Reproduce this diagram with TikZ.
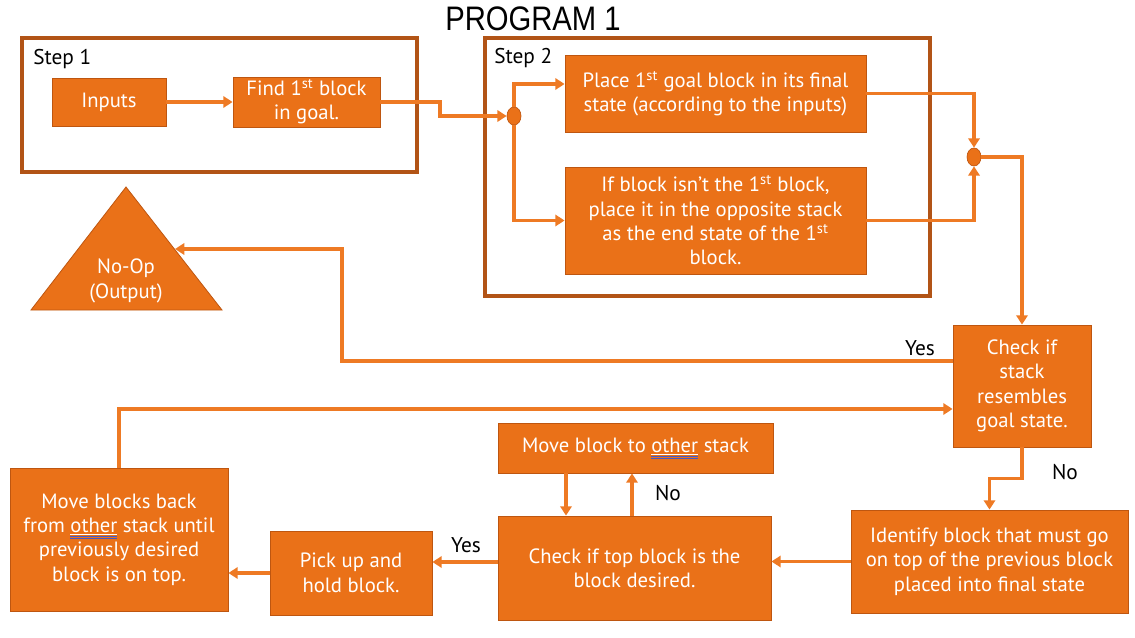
\documentclass[tikz,border=0pt]{standalone}
\usepackage{fontspec}
\setmainfont{PT Sans}
\newfontfamily\titlefont{Liberation Sans}
\usetikzlibrary{arrows.meta,shapes.geometric}
\definecolor{boxfill}{RGB}{234,113,24}
\definecolor{boxedge}{RGB}{190,86,16}
\definecolor{frame}{RGB}{178,84,22}
\definecolor{conn}{RGB}{238,122,36}
\definecolor{spellblue}{RGB}{70,90,200}
\newlength\spw
\newcommand\spellmark[1]{\settowidth\spw{#1}\rlap{\color{spellblue}\rule[-0.2em]{\spw}{0.4pt}\hspace{-\spw}\rule[-0.28em]{\spw}{0.4pt}}\underline{#1}}
\tikzset{
  bx/.style={draw=boxedge, fill=boxfill, line width=0.6pt, text=white, align=center, inner sep=2pt, font=\fontsize{15.5pt}{18.3pt}\selectfont},
  frm/.style={draw=frame, line width=2.3pt},
  cn/.style={draw=conn, line width=2.4pt, -{Triangle[length=7pt,width=8.5pt]}},
  junc/.style={ellipse, fill=boxfill, draw=boxedge, line width=0.5pt, inner sep=0pt, minimum width=10.5pt, minimum height=13.5pt},
  lbl/.style={text=black, font=\fontsize{16pt}{18pt}\selectfont, inner sep=0pt}
}
\begin{document}
\begin{tikzpicture}[x=0.75pt,y=-0.75pt]
\useasboundingbox (0,0) rectangle (1135,638);
% title
\node[font=\titlefont\fontsize{25.5pt}{28pt}\selectfont, inner sep=0pt] (title) at (533,19) {\scalebox{0.86}[1]{PROGRAM 1}};
% frames
\draw[frm] (22,38) rectangle (417,172);
\draw[frm] (485,38) rectangle (930,296);
\node[lbl, anchor=west] (s1) at (33,59) {Step 1};
\node[lbl, anchor=west] (s2) at (494,58) {Step 2};
% boxes
\node[bx, minimum width={114*0.75pt}, minimum height={48*0.75pt}] (inputs) at (109,102) {Inputs};
\node[bx, minimum width={147*0.75pt}, minimum height={48*0.75pt}] (find) at (306.5,102) {Find 1\textsuperscript{st} block\\in goal.};
\node[bx, minimum width={301*0.75pt}, minimum height={77*0.75pt}] (place) at (715.5,93.5) {Place 1\textsuperscript{st} goal block in its final\\state (according to the inputs)};
\node[bx, minimum width={301*0.75pt}, minimum height={107*0.75pt}] (ifb) at (715.5,220.5) {If block isn’t the 1\textsuperscript{st} block,\\place it in the opposite stack\\as the end state of the 1\textsuperscript{st}\\block.};
\node[bx, minimum width={138*0.75pt}, minimum height={122*0.75pt}] (check) at (1022,386) {Check if\\stack\\resembles\\goal state.};
\node[bx, minimum width={277*0.75pt}, minimum height={103*0.75pt}] (identify) at (989.5,561.5) {Identify block that must go\\on top of the previous block\\placed into final state};
\node[bx, minimum width={273*0.75pt}, minimum height={104*0.75pt}] (checktop) at (634.5,568) {Check if top block is the\\block desired.};
\node[bx, minimum width={275*0.75pt}, minimum height={50*0.75pt}] (moveo) at (635.5,448) {Move block to \spellmark{other} stack};
\node[bx, minimum width={162*0.75pt}, minimum height={84*0.75pt}] (pick) at (351,573) {Pick up and\\hold block.};
\node[bx, minimum width={218*0.75pt}, minimum height={143*0.75pt}] (moveback) at (119,539.5) {Move blocks back\\from \spellmark{other} stack until\\previously desired\\block is on top.};
% triangle
\draw[draw=boxedge, fill=boxfill, line width=0.6pt] (126,187) -- (222,310) -- (31,310) -- cycle;
\node[text=white, align=center, inner sep=0pt, font=\fontsize{15.5pt}{18.3pt}\selectfont] (noop) at (126,281) {No-Op\\(Output)};
\coordinate (tri) at (175,249);
% junctions
\node[junc] (j1) at (514,116) {};
\node[junc] (j2) at (974,157) {};
% connectors
\draw[cn] (inputs) -- (find);
\draw[cn] (find.east) -- (440,102) |- (j1.west);
\draw[cn] (j1.north) |- (place.west |- 0,84);
\draw[cn] (j1.south) |- (ifb.west);
\draw[cn] (place.east) -| (j2.north);
\draw[cn] (ifb.east) -| (j2.south);
\draw[cn] (j2.east) -| (check.north);
\draw[cn] (check.west |- 0,361) -- (342,361) -- (342,249) -- (tri);
\draw[cn] (moveback.north) |- (check.west |- 0,409);
\draw[cn] (check.south) -- ++(0,31) -| (identify.north);
\draw[cn] (identify.west) -- (checktop.east |- identify.west);
\draw[cn] (moveo.south -| 566,0) -- (checktop.north -| 566,0);
\draw[cn] (checktop.north -| 632,0) -- (moveo.south -| 632,0);
\draw[cn] (checktop.west |- 0,562) -- (pick.east |- 0,562);
\draw[cn] (pick.west) -- (moveback.east |- pick.west);
% labels
\node[lbl] (yes1) at (920,348) {Yes};
\node[lbl] (no1) at (1065,472) {No};
\node[lbl] (no2) at (668,493) {No};
\node[lbl] (yes2) at (466,545) {Yes};
\end{tikzpicture}
\end{document}
